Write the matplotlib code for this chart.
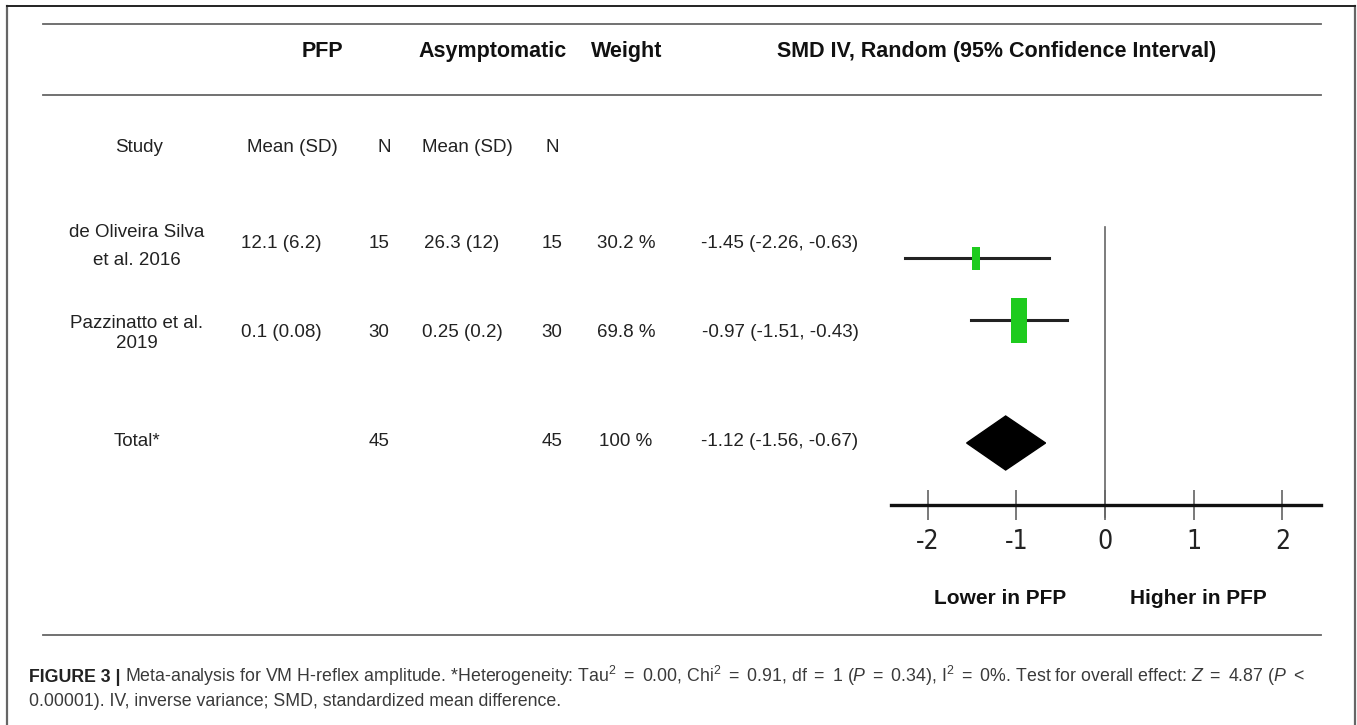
import matplotlib as mpl
mpl.use('Agg')
import matplotlib.pyplot as plt
from matplotlib.patches import Rectangle, Polygon

# data
studies = ["de Oliveira Silva\net al. 2016", "Pazzinatto et al.\n2019"]
pfp_mean_sd = ["12.1 (6.2)", "0.1 (0.08)"]
pfp_n = [15, 30]
asym_mean_sd = ["26.3 (12)", "0.25 (0.2)"]
asym_n = [15, 30]
weights = [30.2, 69.8]
smd = [-1.45, -0.97]
ci_lo = [-2.26, -1.51]
ci_hi = [-0.63, -0.43]
total_n = [45, 45]
total_smd = -1.12
total_lo = -1.56
total_hi = -0.67
xticks = [-2, -1, 0, 1, 2]

# layout (pixels, origin top-left)
W, H = 1357, 725
row_y = [243, 332, 441]
name_y = [(232, 260), (323, 343)]
col_study, col_m1, col_n1, col_m2, col_n2, col_w, col_smd = 137, 281, 379, 462, 552, 626, 780
box_w = [0.09, 0.17]   # SMD units
box_h = [23, 45]       # pixels
txt_col = '#222222'

plt.rcParams['font.family'] = ['Liberation Sans', 'DejaVu Sans']
plt.rcParams['mathtext.fontset'] = 'custom'
plt.rcParams['mathtext.rm'] = 'Liberation Sans'
plt.rcParams['mathtext.it'] = 'Liberation Sans:italic'
plt.rcParams['mathtext.bf'] = 'Liberation Sans:bold'

fig = plt.figure(figsize=(W / 100, H / 100), dpi=100)
ax = fig.add_axes([0, 0, 1, 1])
ax.set_xlim(0, W)
ax.set_ylim(H, 0)
ax.axis('off')

# outer frame
ax.plot([7, 7], [6, H], color='#666666', lw=1.6)
ax.plot([1355, 1355], [6, H], color='#666666', lw=1.6)
ax.plot([7, 1355], [6, 6], color='#222222', lw=1.4)

# table rules
for yy in (24, 95, 635):
    ax.plot([43, 1321], [yy, yy], color='#666666', lw=1.3)

# headers
hdr = dict(fontsize=15.5, fontweight='bold', color='#111111', ha='center', va='center')
ax.text(322, 51, "PFP", **hdr)
ax.text(493, 51, "Asymptomatic", **hdr)
ax.text(627, 51, "Weight", **hdr)
ax.text(997, 51, "SMD IV, Random (95% Confidence Interval)", **hdr)

body = dict(fontsize=13.5, color=txt_col, ha='center', va='center')
ax.text(139, 147, "Study", **body)
ax.text(292, 147, "Mean (SD)", **body)
ax.text(384, 147, "N", **body)
ax.text(467, 147, "Mean (SD)", **body)
ax.text(552, 147, "N", **body)

for i in range(len(studies)):
    for line, ly in zip(studies[i].split("\n"), name_y[i]):
        ax.text(col_study, ly, line, **body)
    y = row_y[i]
    ax.text(col_m1, y, pfp_mean_sd[i], **body)
    ax.text(col_n1, y, str(pfp_n[i]), **body)
    ax.text(col_m2, y, asym_mean_sd[i], **body)
    ax.text(col_n2, y, str(asym_n[i]), **body)
    ax.text(col_w, y, f"{weights[i]:.1f} %", **body)
    ax.text(col_smd, y, f"{smd[i]:.2f} ({ci_lo[i]:.2f}, {ci_hi[i]:.2f})", **body)

y = row_y[2]
ax.text(col_study, y, "Total*", **body)
ax.text(col_n1, y, str(total_n[0]), **body)
ax.text(col_n2, y, str(total_n[1]), **body)
ax.text(col_w, y, f"{sum(weights):.0f} %", **body)
ax.text(col_smd, y, f"{total_smd:.2f} ({total_lo:.2f}, {total_hi:.2f})", **body)

# forest plot axes
x0_px, x1_px, top_px, bot_px = 891, 1321, 220, 505
px_per_unit = 88.7
zero_px = 1105
fax = fig.add_axes([x0_px / W, 1 - bot_px / H, (x1_px - x0_px) / W, (bot_px - top_px) / H])
fax.set_xlim((x0_px - zero_px) / px_per_unit, (x1_px - zero_px) / px_per_unit)
fax.set_ylim(bot_px, top_px)
fax.patch.set_alpha(0)
for s in ('top', 'left', 'right'):
    fax.spines[s].set_visible(False)
fax.spines['bottom'].set_linewidth(2.4)
fax.spines['bottom'].set_color('#111111')
fax.set_yticks([])
fax.set_xticks(xticks)
fax.set_xticklabels([str(t) for t in xticks], family='DejaVu Sans', fontstretch='condensed',
                    fontweight='light', fontsize=19, color='#222222')
fax.tick_params(axis='x', direction='inout', length=22, width=1.1, color='#555555', pad=6)

fax.plot([0, 0], [227, 517], color='#666666', lw=1.2, clip_on=False)

forest_y = [258, 320]
for i in range(len(smd)):
    fax.plot([ci_lo[i], ci_hi[i]], [forest_y[i], forest_y[i]], color='#222222', lw=2.2, zorder=2)
    fax.add_patch(Rectangle((smd[i] - box_w[i] / 2, forest_y[i] - box_h[i] / 2), box_w[i], box_h[i],
                            facecolor='#1ecb1e', edgecolor='none', zorder=3))

dy = 443
fax.add_patch(Polygon([(total_lo, dy), (total_smd, dy - 27), (total_hi, dy), (total_smd, dy + 27)],
                      closed=True, facecolor='black', edgecolor='black', zorder=3))

lbl = dict(fontsize=15, fontweight='bold', color='#111111', ha='center', va='center')
ax.text(1000, 598, "Lower in PFP", **lbl)
ax.text(1198, 598, "Higher in PFP", **lbl)

# caption
cap_fs = 12.8
t1 = ax.text(29, 682, "FIGURE 3 | ", fontsize=cap_fs, fontweight='bold', color='#222222',
             ha='left', va='baseline')
fig.canvas.draw()
bb = t1.get_window_extent()
xr = ax.transData.inverted().transform((bb.x1, bb.y0))[0]
cap1 = (r"Meta-analysis for VM H-reflex amplitude. *Heterogeneity: Tau$^2$ $=$ 0.00, "
        r"Chi$^2$ $=$ 0.91, df $=$ 1 ($P$ $=$ 0.34), I$^2$ $=$ 0%. "
        r"Test for overall effect: $Z$ $=$ 4.87 ($P$ $<$")
ax.text(xr, 682, cap1, fontsize=cap_fs, color='#3a3a3a', ha='left', va='baseline')
ax.text(29, 706, "0.00001). IV, inverse variance; SMD, standardized mean difference.",
        fontsize=cap_fs, color='#3a3a3a', ha='left', va='baseline')

fig.savefig("out.png", dpi=100)
